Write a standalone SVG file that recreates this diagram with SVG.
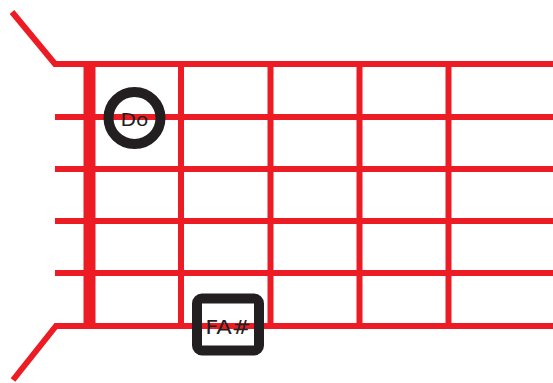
<svg xmlns="http://www.w3.org/2000/svg" width="553" height="383" viewBox="0 0 553 383">
<style>
.s{stroke:#ED1C24;stroke-width:6;fill:none}
.t{stroke:#ED1C24;stroke-width:12;fill:none}
.m{stroke:#231F20;stroke-width:10;fill:none}
.lbl{font-family:"DejaVu Sans","Liberation Sans",sans-serif;fill:#231F20;text-anchor:middle}
</style>
<rect width="553" height="383" fill="#fff"/>
<g id="connectors">
<polyline class="s" points="12,12 55,64 553,64"/>
<polyline class="s" points="13,380 56,326 553,326"/>
<line class="s" x1="55" y1="117" x2="553" y2="117"/>
<line class="s" x1="55" y1="169" x2="553" y2="169"/>
<line class="s" x1="55" y1="221" x2="553" y2="221"/>
<line class="s" x1="55" y1="273" x2="553" y2="273"/>
<line class="t" x1="89.5" y1="61" x2="89.5" y2="329"/>
<line class="s" x1="181" y1="64" x2="181" y2="326"/>
<line class="s" x1="270.5" y1="64" x2="270.5" y2="326"/>
<line class="s" x1="359.5" y1="64" x2="359.5" y2="326"/>
<line class="s" x1="448.5" y1="64" x2="448.5" y2="326"/>
</g>
<g id="do">
<circle class="m" cx="134.5" cy="118" r="26"/>
<text class="lbl" transform="translate(134.5,126) scale(1.12,1)" font-size="18">Do</text>
</g>
<g id="fa">
<rect class="m" x="197" y="298.5" width="62" height="52" rx="5"/>
<text class="lbl" transform="translate(228,333.5) scale(1.2,1)" font-size="19">FA#</text>
</g>
</svg>
